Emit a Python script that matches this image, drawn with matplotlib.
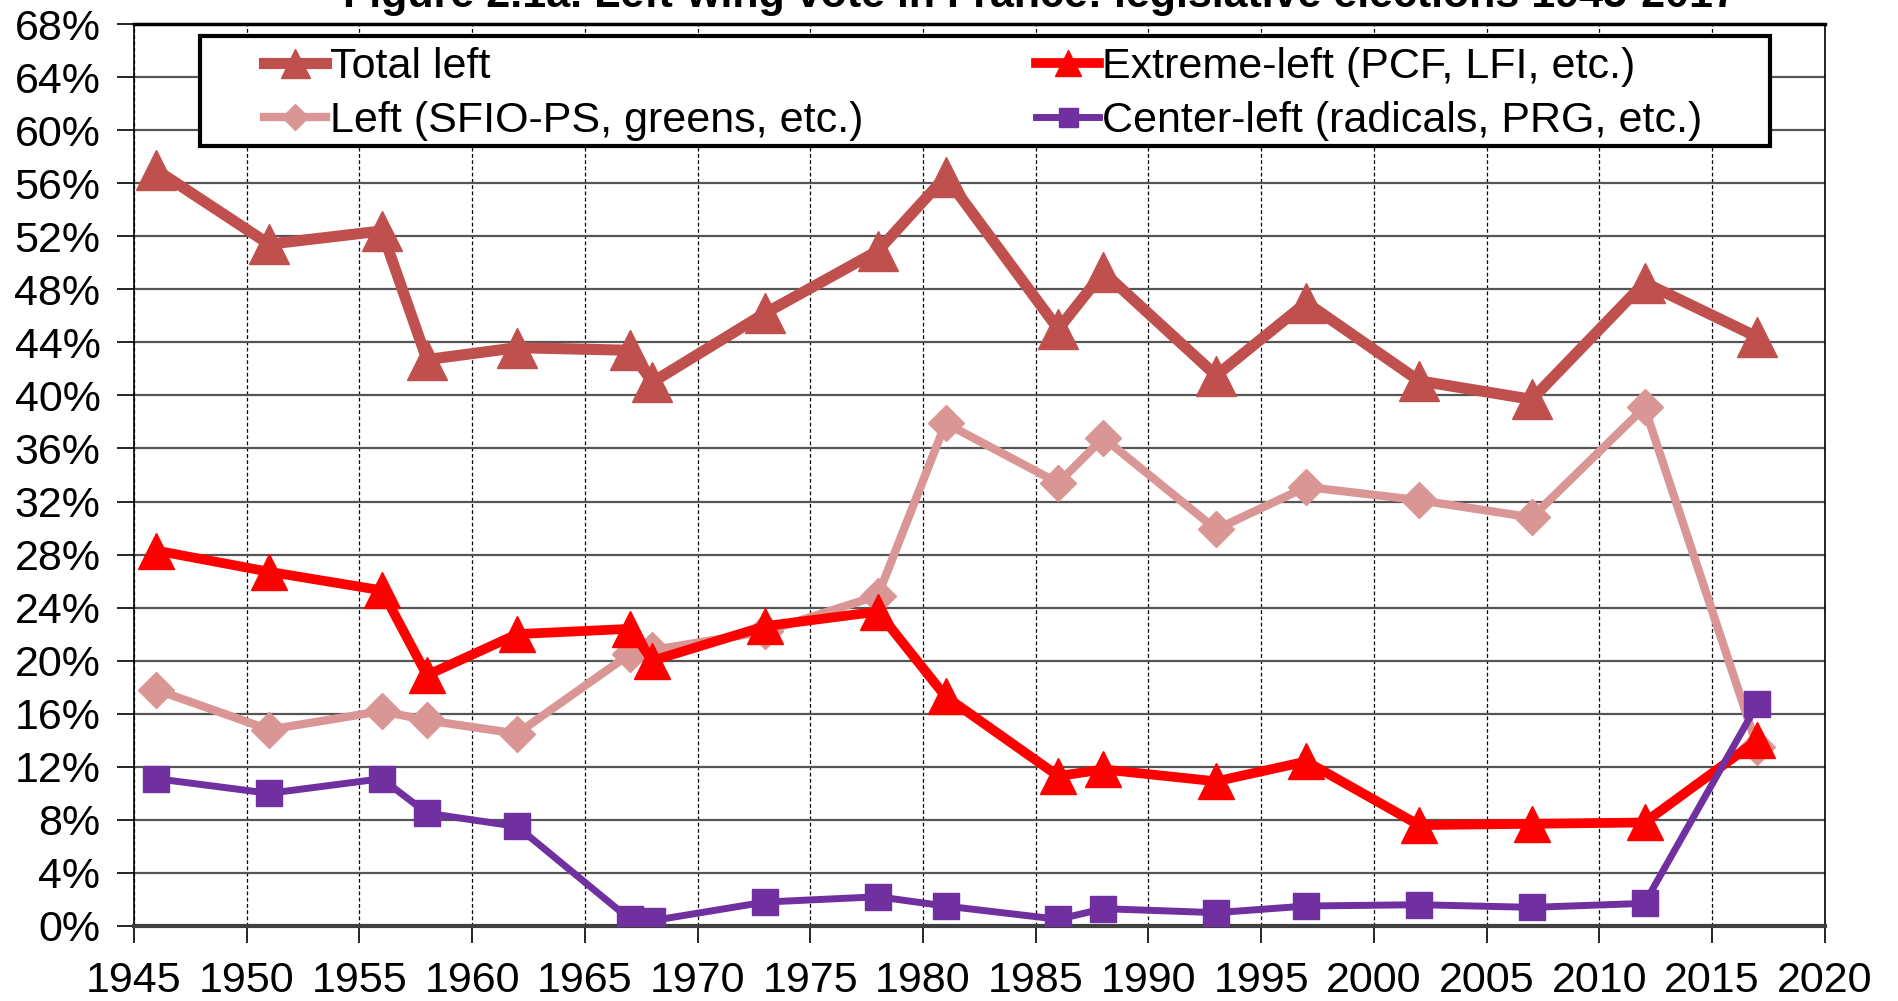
import matplotlib
matplotlib.use("Agg")
import matplotlib.pyplot as plt
from matplotlib.ticker import FuncFormatter, MultipleLocator
from matplotlib.patches import Rectangle

plt.rcParams['font.family'] = ['Liberation Sans', 'DejaVu Sans']

years = [1946, 1951, 1956, 1958, 1962, 1967, 1968, 1973, 1978, 1981,
         1986, 1988, 1993, 1997, 2002, 2007, 2012, 2017]
total_left = [57.0, 51.4, 52.4, 42.7, 43.6, 43.4, 41.0, 46.2, 50.9, 56.5,
              45.0, 49.3, 41.5, 47.0, 41.1, 39.7, 48.5, 44.4]
extreme_left = [28.3, 26.7, 25.3, 18.9, 22.0, 22.4, 20.0, 22.6, 23.7, 17.3,
                11.3, 11.8, 10.9, 12.4, 7.6, 7.7, 7.8, 14.0]
left = [17.8, 14.8, 16.2, 15.5, 14.5, 20.5, 20.8, 22.2, 24.9, 37.9,
        33.4, 36.8, 29.9, 33.1, 32.1, 30.8, 39.1, 13.5]
center_left = [11.1, 10.0, 11.1, 8.5, 7.5, 0.5, 0.4, 1.8, 2.2, 1.5,
               0.5, 1.3, 1.0, 1.5, 1.6, 1.4, 1.7, 16.7]

labels = ["Total left", "Extreme-left (PCF, LFI, etc.)",
          "Left (SFIO-PS, greens, etc.)", "Center-left (radicals, PRG, etc.)"]
title = "Figure 2.1a. Left-wing vote in France: legislative elections 1945-2017"

fig = plt.figure(figsize=(18.98, 10.01), dpi=100)
ax = fig.add_axes([0.0705, 0.075, 0.891, 0.901])

FS = 31

h_total, = ax.plot(years, total_left, color='#C0504D', lw=8, marker='^',
                   ms=29, zorder=5)
h_ext, = ax.plot(years, extreme_left, color='#FF0000', lw=7, marker='^',
                 ms=26, zorder=4)
h_left, = ax.plot(years, left, color='#D99694', lw=6, marker='D',
                  ms=18, zorder=3)
h_cent, = ax.plot(years, center_left, color='#7030A0', lw=5, marker='s',
                  ms=19, zorder=6)

ax.set_xlim(1945, 2020)
ax.set_ylim(0, 68)
ax.xaxis.set_major_locator(MultipleLocator(5))
ax.yaxis.set_major_locator(MultipleLocator(4))
ax.yaxis.set_major_formatter(FuncFormatter(lambda v, p: f"{v:.0f}%"))

ax.grid(axis='y', color='#555555', lw=1.6, zorder=0)
ax.grid(axis='x', color='black', lw=0.9, ls=(0, (3, 2)), zorder=0)
ax.set_axisbelow(True)

ax.tick_params(axis='both', labelsize=FS, length=12, width=1.2, color='black')
ax.tick_params(axis='y', pad=12)
ax.tick_params(axis='x', pad=13)

for s in ['top', 'left', 'right']:
    ax.spines[s].set_color('black')
    ax.spines[s].set_linewidth(1.2)
ax.spines['top'].set_linewidth(2.5)
ax.spines['bottom'].set_color('#404040')
ax.spines['bottom'].set_linewidth(3)

# legend frame drawn as a figure rectangle
fig.patches.append(Rectangle((0.1052, 0.8537), 0.8272, 0.1100,
                             transform=fig.transFigure, facecolor='white',
                             edgecolor='black', lw=3, zorder=9))

leg = fig.legend([h_total, h_left, h_ext, h_cent],
                 [labels[0], labels[2], labels[1], labels[3]],
                 ncol=2, loc='upper left', mode='expand',
                 bbox_to_anchor=(0.139, 0.79, 0.758, 0.163),
                 bbox_transform=fig.transFigure,
                 fontsize=FS, frameon=False,
                 handlelength=1.45, handletextpad=0.08,
                 labelspacing=0.33, borderpad=0, borderaxespad=0,
                 markerscale=0.72)
leg.set_zorder(10)

fig.text(0.548, 0.993, title, ha='center', va='baseline', fontsize=FS,
         fontweight='bold')

fig.savefig('out.png', dpi=100)
